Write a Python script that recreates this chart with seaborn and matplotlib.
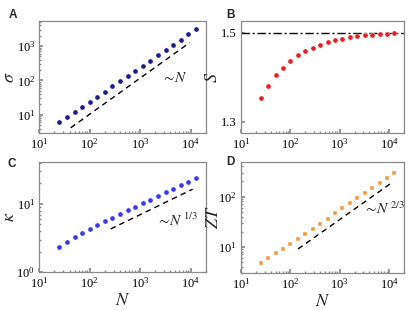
import numpy as np
import pandas as pd
import matplotlib
matplotlib.use("Agg")
import matplotlib.pyplot as plt
from matplotlib.ticker import FixedLocator, NullLocator
import seaborn as sns

# ---- data ----
N = [25, 35, 50, 71, 100, 141, 200, 283, 400, 566, 800, 1131, 1600, 2263,
     3200, 4525, 6400, 9051, 12800]
sigma = [6.0, 8.6, 12.0, 17.1, 24.0, 32.9, 47.1, 67.3, 96.4, 135, 194, 271,
         379, 543, 778, 1114, 1560, 2233, 3199]
S = [1.354, 1.381, 1.404, 1.4215, 1.437, 1.449, 1.458, 1.466, 1.473, 1.478,
     1.4826, 1.4864, 1.4894, 1.4916, 1.494, 1.4955, 1.496, 1.4977, 1.4985]
kappa = [2.38, 2.81, 3.25, 3.76, 4.30, 4.98, 5.57, 6.31, 7.14, 8.08, 9.14,
         10.3, 11.6, 13.1, 14.7, 16.6, 18.8, 21.0, 23.7]
ZT = [4.79, 5.93, 7.36, 9.12, 11.5, 14.2, 17.9, 22.6, 28.8, 36.3, 46.4, 58.4,
      75.9, 95.5, 118, 149, 188, 233, 293]

# guide lines (scaling laws)
guide_a_N, guide_a_y = [42, 9600], [4.2, 1260]
guide_c_N, guide_c_y = [260, 11000], [4.3, 16.4]
guide_d_N, guide_d_y = [143, 11000], [9.0, 185]
S_limit = 1.5

df = pd.DataFrame({"N": N, "sigma": sigma, "S": S, "kappa": kappa, "ZT": ZT})

sns.set_theme(style="ticks")
plt.rcParams.update({
    "font.family": ["Liberation Serif", "DejaVu Serif"],
    "mathtext.fontset": "stix",
    "font.size": 9,
    "axes.edgecolor": "#8a8a8a",
    "axes.linewidth": 0.9,
    "xtick.direction": "in", "ytick.direction": "in",
    "xtick.color": "#8a8a8a", "ytick.color": "#8a8a8a",
    "xtick.labelcolor": "black", "ytick.labelcolor": "black",
    "xtick.labelsize": 9, "ytick.labelsize": 9,
    "xtick.major.size": 3, "ytick.major.size": 3,
    "xtick.minor.size": 1.6, "ytick.minor.size": 1.6,
    "xtick.major.pad": 3, "ytick.major.pad": 3,
})

fig = plt.figure(figsize=(4.1, 3.1), dpi=100)
W, H = 410, 310


def add_ax(l, r, t, b):
    return fig.add_axes([l / W, 1 - b / H, (r - l) / W, (b - t) / H])


axA = add_ax(39.3, 205.7, 21, 133.3)
axB = add_ax(241, 404, 21, 133.3)
axC = add_ax(39.3, 205.7, 162, 272.3)
axD = add_ax(241, 404, 162, 273.3)

# axes, column, colour, marker, y label, label x (axes frac), letter, letter px pos
specs = [
    (axA, "sigma", "#1c1c8a", "o", r"$\sigma$", -0.13, "A", (9, 15)),
    (axB, "S", "#e3202a", "o", r"$S$", -0.12, "B", (226, 15)),
    (axC, "kappa", "#3a3ae0", "o", r"$\kappa$", -0.13, "C", (8, 164)),
    (axD, "ZT", "#f39a3c", "s", r"$ZT$", -0.115, "D", (226, 162)),
]

for ax, col, color, mk, ylab, lx, letter, (px, py) in specs:
    sns.scatterplot(data=df, x="N", y=col, ax=ax, color=color, marker=mk,
                    s=14 if mk == "o" else 11, edgecolor="white", linewidth=0.3,
                    zorder=3, legend=False)
    ax.set_xscale("log")
    ax.set_xlim(10, 2.0e4)
    ax.xaxis.set_major_locator(FixedLocator([1e1, 1e2, 1e3, 1e4]))
    ax.tick_params(which="both", top=False, right=False)
    ax.set_ylabel(ylab, fontsize=13)
    ax.yaxis.set_label_coords(lx, 0.5)
    ax.set_xlabel("")
    fig.text(px / W, 1 - py / H, letter, family="Liberation Sans",
             fontweight="bold", fontsize=8.5, ha="left", va="center")

# A
axA.set_yscale("log")
axA.set_ylim(2.9, 5400)
axA.plot(guide_a_N, guide_a_y, ls=(0, (4, 3)), color="black", lw=1.0)
axA.text(0.73, 0.49, r"$\sim\!N$", transform=axA.transAxes, fontsize=11,
         va="center")

# B
axB.set_ylim(1.274, 1.526)
axB.yaxis.set_major_locator(FixedLocator([1.3, 1.5]))
axB.yaxis.set_minor_locator(NullLocator())
axB.axhline(S_limit, color="black", lw=1.0, ls=(0, (6, 2, 1.5, 2)), zorder=2)

# C
axC.set_yscale("log")
axC.set_ylim(1, 41)
axC.plot(guide_c_N, guide_c_y, ls=(0, (4, 3)), color="black", lw=1.0)
axC.text(0.70, 0.47, r"$\sim\!N^{\ 1/3}$", transform=axC.transAxes, fontsize=11,
         va="center")
axC.set_xlabel(r"$N$", fontsize=13, labelpad=1)

# D
axD.set_yscale("log")
axD.set_ylim(2.94, 490)
axD.plot(guide_d_N, guide_d_y, ls=(0, (4, 3)), color="black", lw=1.0)
axD.text(0.75, 0.58, r"$\sim\!N^{\ 2/3}$", transform=axD.transAxes, fontsize=11,
         va="center")
axD.set_xlabel(r"$N$", fontsize=13, labelpad=1)

fig.savefig("out.png", dpi=100)
